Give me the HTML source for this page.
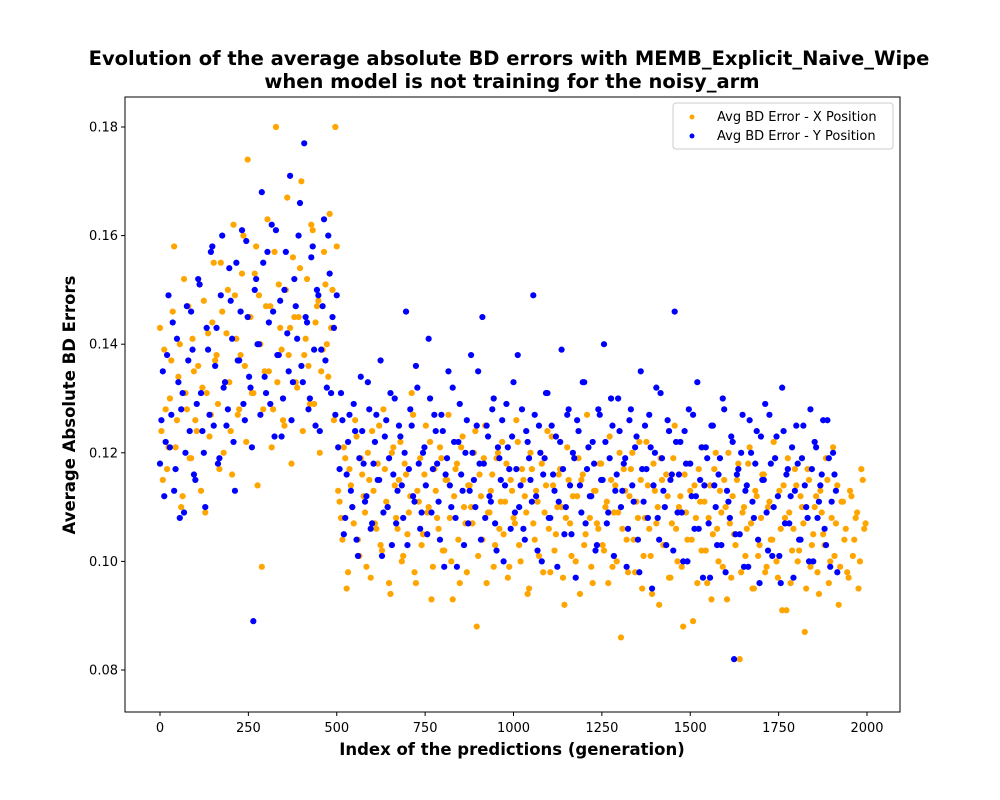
<!DOCTYPE html>
<html><head><meta charset="utf-8">
<style>
html,body{margin:0;padding:0;background:#fff;}
svg{display:block;font-family:"DejaVu Sans","Liberation Sans",sans-serif;}
</style></head>
<body>
<svg id="chart" width="1000" height="800" viewBox="0 0 1000 800"></svg>
<script>
// Data (values in thousandths, i.e. 143 = 0.143); indices step of 8 generations, second arrays offset by 4
const step = 8;
const offset = 4;
const xTicks = [0,250,500,750,1000,1250,1500,1750,2000];
const yTicks = [0.08,0.10,0.12,0.14,0.16,0.18];
const seriesXErr = [
143,115,128,121,137,158,126,140,112,131,
147,119,135,124,151,132,109,142,127,155,
138,117,146,133,150,124,162,141,128,153,
136,174,145,131,158,149,99,135,163,147,
128,180,151,139,125,167,143,156,133,145,
170,138,152,129,161,144,148,135,157,140,
164,150,180,
113,108,121,95,117,110,126,104,119,112,
99,115,124,107,118,103,128,111,96,120,
114,106,122,101,116,109,131,98,113,119,
105,125,110,93,117,108,121,102,115,127,
100,112,118,96,123,107,114,110,120,88,
116,104,125,109,113,99,119,106,122,111,
97,115,108,126,103,117,112,94,120,107,
113,101,118,109,124,98,114,105,116,110,
92,121,107,112,100,119,115,103,127,108,
96,113,106,118,102,111,123,99,114,109,
86,117,104,112,120,98,108,115,101,122,
106,94,113,110,119,103,116,97,107,125,
100,112,88,109,118,104,114,96,111,121,
102,108,93,117,106,113,99,110,120,97,
105,115,82,109,101,118,107,95,112,103,
116,98,110,104,122,100,113,91,108,119,
96,106,114,102,110,87,117,99,105,112,
94,109,103,115,100,121,107,92,111,104,
98,113,101,108,95,117,106];
const seriesXErrOffset = [
124,139,117,130,146,121,134,110,152,128,
119,141,126,136,113,148,131,123,144,137,
129,155,120,142,133,116,149,127,138,160,
122,145,131,153,114,140,128,147,135,121,
157,133,143,126,150,138,118,145,132,154,
124,141,136,162,129,147,120,139,151,134,
143,126,158,
111,104,119,98,114,107,123,101,116,109,
120,97,113,106,125,102,117,110,94,121,
108,115,100,118,105,112,127,96,111,103,
116,109,122,99,113,106,119,102,115,108,
93,117,104,121,110,98,114,107,124,101,
112,119,96,109,116,103,120,111,105,118,
99,113,107,122,100,115,109,95,117,104,
111,120,98,114,106,123,102,110,117,97,
108,115,101,119,112,94,116,105,121,99,
113,107,118,103,110,96,115,109,100,120,
106,113,98,117,104,111,122,95,108,114,
101,118,107,92,115,103,112,97,119,106,
110,99,116,104,113,89,108,117,102,111,
96,114,105,120,100,109,115,93,107,112,
103,118,98,110,106,121,95,113,101,108,
116,99,111,104,119,97,106,114,91,109,
102,117,100,112,107,95,115,103,110,98,
113,105,119,96,108,101,114,99,111,106,
97,112,104,109,100,115,107];
const seriesYErr = [
118,135,122,149,127,113,141,108,131,120,
137,146,116,129,151,124,110,139,157,125,
143,119,160,133,128,148,122,155,137,161,
126,145,132,89,152,140,168,134,157,129,
146,161,138,123,150,142,171,133,147,160,
136,177,144,130,158,125,149,139,163,132,
153,145,127,
121,131,105,116,127,110,124,101,134,118,
112,128,107,122,115,137,109,126,119,103,
130,113,123,108,146,117,125,111,132,106,
120,114,141,109,127,118,104,124,116,135,
110,122,99,129,113,120,107,138,115,125,
118,145,108,123,111,130,102,119,126,114,
121,106,133,117,110,128,104,122,115,149,
112,125,100,119,131,108,116,123,111,139,
105,127,114,120,97,124,109,133,117,112,
122,102,128,115,140,107,119,125,113,130,
110,118,99,126,114,121,104,135,111,117,
127,95,120,108,131,113,103,124,116,146,
109,122,100,118,128,112,106,133,115,97,
121,107,125,114,103,119,130,98,111,123,
82,116,105,127,113,99,120,108,124,96,
115,129,102,118,110,123,101,132,107,117,
112,97,125,104,119,114,108,128,100,121,
111,116,106,126,99,120,113];
const seriesYErrOffset = [
126,112,138,121,144,117,133,128,109,147,
124,139,115,152,131,120,143,127,158,136,
118,149,132,125,154,141,113,137,146,129,
159,134,121,150,140,127,155,131,144,162,
123,138,148,130,157,135,126,152,141,166,
133,145,128,156,139,150,124,147,137,160,
131,143,149,
117,126,108,122,113,129,104,119,124,111,
133,106,118,127,115,101,123,110,131,116,
107,125,114,120,103,128,112,136,118,109,
121,105,130,117,124,111,127,99,119,114,
132,108,122,116,103,126,113,120,110,135,
104,118,125,112,128,107,121,115,100,129,
117,123,109,138,114,106,124,119,111,127,
102,120,116,131,108,125,113,99,122,117,
110,128,105,119,126,114,133,107,121,112,
118,103,127,115,122,109,130,101,116,124,
113,119,106,128,111,123,98,117,125,108,
121,114,132,104,119,110,126,115,102,122,
116,109,124,100,118,127,112,106,121,114,
119,97,125,110,116,103,128,113,108,122,
105,117,120,99,114,126,111,118,104,123,
115,109,127,101,119,112,96,124,116,107,
121,113,118,104,125,110,100,117,122,108,
114,126,103,119,111,116,98];

const NS="http://www.w3.org/2000/svg";
const svg=document.getElementById('chart');
const L=125,R=900,T=97,B=712;
function sx(v){return 160+(v/2000)*707;}
function sy(v){return 670-(v-0.08)/0.10*543;}
function mk(tag,attrs,parent){const e=document.createElementNS(NS,tag);for(const k in attrs)e.setAttribute(k,attrs[k]);(parent||svg).appendChild(e);return e;}

const gx=mk('g',{});


xTicks.forEach(t=>{
  mk('line',{x1:sx(t),x2:sx(t),y1:B,y2:B+4,stroke:'#000','stroke-width':1},gx);
  const tx=mk('text',{x:sx(t),y:B+20,'font-size':13,'text-anchor':'middle'},gx);
  
  
  tx.textContent=t;
});
const gy=mk('g',{});


yTicks.forEach(t=>{
  mk('line',{x1:L-4,x2:L,y1:sy(t),y2:sy(t),stroke:'#000','stroke-width':1},gy);
  const tx=mk('text',{x:L-7,y:sy(t)+4.5,'font-size':13,'text-anchor':'end'},gy);
  
  
  tx.textContent=t.toFixed(2);
});

function drawSeries(vals,off,color,name){
  const g=mk('g',{fill:color});
  
  
  vals.forEach((v,i)=>{
    const c=mk('circle',{cx:sx(i*step+off),cy:sy(v/1000),r:3.1},g);
    
    
  });
}
drawSeries(seriesXErr,0,'#ffa500','series-x-position');
drawSeries(seriesXErrOffset,offset,'#ffa500','series-x-position-extra');
drawSeries(seriesYErr,0,'#0000ff','series-y-position');
drawSeries(seriesYErrOffset,offset,'#0000ff','series-y-position-extra');

const frame=mk('rect',{x:L,y:T,width:R-L,height:B-T,fill:'none',stroke:'#000','stroke-width':1});



const t1=mk('text',{x:509,y:65,'font-size':19.5,'font-weight':'bold','text-anchor':'middle'});


t1.textContent='Evolution of the average absolute BD errors with MEMB_Explicit_Naive_Wipe';
const t2=mk('text',{x:512,y:88,'font-size':19.5,'font-weight':'bold','text-anchor':'middle'});


t2.textContent='when model is not training for the noisy_arm';
const xl=mk('text',{x:512,y:755,'font-size':16.5,'font-weight':'bold','text-anchor':'middle'});


xl.textContent='Index of the predictions (generation)';
const yl=mk('text',{x:0,y:0,'font-size':16.5,'font-weight':'bold','text-anchor':'middle',transform:'translate(75,405) rotate(-90)'});


yl.textContent='Average Absolute BD Errors';

const lg=mk('g',{});


mk('rect',{x:673,y:103,width:220,height:46,rx:3,fill:'#fff','fill-opacity':0.8,stroke:'#ccc'},lg);
mk('circle',{cx:692,cy:117,r:2.5,fill:'#ffa500'},lg);
mk('circle',{cx:692,cy:136,r:2.5,fill:'#0000ff'},lg);
const le1=mk('text',{x:717,y:121,'font-size':13},lg);


le1.textContent='Avg BD Error - X Position';
const le2=mk('text',{x:717,y:140,'font-size':13},lg);


le2.textContent='Avg BD Error - Y Position';
</script>
</body></html>
